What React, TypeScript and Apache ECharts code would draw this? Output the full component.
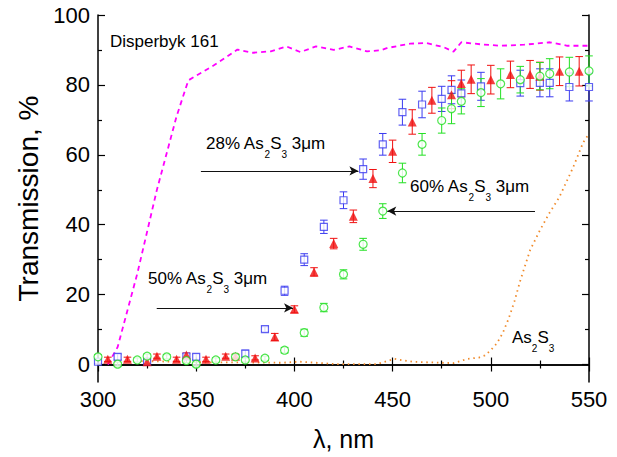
import React, { useEffect, useRef } from "react";
import * as echarts from "echarts";

const FONT = "'Liberation Sans', Arial, sans-serif";

// X ticks
const xTicks = [300, 350, 400, 450, 500, 550];
const yMajor = [0, 20, 40, 60, 80, 100];
const yMinor = [10, 30, 50, 70, 90];

// 28% As2S3 3um (blue squares)
const blueX = [300, 310, 325, 345, 350, 375, 385, 395, 405, 415, 425, 435, 445, 455, 465, 475, 480, 485, 495, 515, 525, 530, 540, 550];
const blueY = [0.8, 2.2, 0.8, 2.3, 2.2, 3.1, 10.1, 21.1, 30.0, 39.4, 47.0, 55.9, 63.0, 72.2, 74.4, 76.0, 78.6, 77.6, 79.6, 80.5, 80.6, 80.6, 79.4, 79.4];
const blueErr = [0.6, 0.8, 0.6, 0.8, 0.8, 1.0, 0.7, 1.3, 1.7, 1.9, 2.4, 2.9, 3.1, 3.7, 3.8, 3.6, 4.0, 3.8, 4.0, 3.7, 4.0, 4.0, 4.0, 4.0];

// 50% As2S3 3um (red triangles)
const redX = [305, 315, 325, 330, 340, 345, 355, 365, 370, 380, 390, 400, 410, 420, 430, 440, 450, 460, 470, 480, 485, 490, 500, 510, 520, 525, 535, 545];
const redY = [1.5, 1.5, 0.8, 2.4, 1.5, 2.7, 1.5, 2.4, 2.4, 1.9, 7.9, 15.8, 26.5, 34.6, 42.4, 53.2, 61.0, 69.4, 75.6, 77.2, 80.4, 81.6, 81.5, 83.0, 83.0, 82.5, 83.9, 83.9];
const redErr = [0.6, 0.6, 0.6, 0.6, 0.6, 0.6, 0.6, 0.6, 0.6, 0.6, 1.0, 1.0, 1.2, 1.5, 1.8, 2.6, 3.2, 3.5, 3.7, 4.0, 3.8, 4.1, 4.1, 3.8, 4.0, 4.0, 4.1, 4.2];

// 60% As2S3 3um (green circles)
const greenX = [300, 310, 320, 325, 335, 345, 350, 360, 370, 375, 385, 395, 405, 415, 425, 435, 445, 455, 465, 475, 480, 485, 495, 505, 515, 525, 530, 540, 550];
const greenY = [2.2, 0.1, 1.3, 2.4, 2.2, 1.1, 0.1, 1.3, 2.2, 1.3, 1.8, 4.1, 9.1, 16.3, 25.8, 34.4, 43.9, 54.8, 63.0, 69.8, 73.2, 75.3, 77.8, 80.3, 81.5, 82.5, 83.2, 83.7, 84.0];
const greenErr = [0.6, 0.6, 0.6, 0.6, 0.6, 0.6, 0.6, 0.6, 0.6, 0.6, 0.6, 0.8, 1.0, 1.2, 1.3, 1.7, 2.1, 2.8, 3.1, 3.6, 4.3, 3.6, 4.0, 4.3, 3.8, 3.9, 4.3, 4.2, 4.3];

// Disperbyk 161 (magenta dashed)
const magX = [305, 310, 320, 330, 340, 346, 359, 371, 379, 388, 396, 403, 411, 420, 428, 437, 444, 447, 454, 459, 467, 476, 481, 485, 495, 505, 517, 530, 539, 550];
const magY = [0, 5, 26, 50, 71, 81.3, 85.6, 90.1, 89.2, 89.6, 91, 89.4, 91, 90, 91, 89.6, 89.9, 90.5, 91.3, 91.8, 92, 90.8, 89.5, 92.2, 91.6, 91.2, 91.5, 92.2, 91.2, 91.2];

// As2S3 (orange dotted)
const orX = [322, 340, 360, 375, 393, 403, 422, 442, 451, 460, 470, 481, 488, 494, 497, 500, 503, 506, 509, 512, 515, 520, 525, 530, 535, 542, 547, 550];
const orY = [1.0, 0.8, 0.6, 0.6, 0.5, 0.8, 0.1, 0.1, 1.6, 0.8, 0.6, 0.4, 1.6, 2.0, 2.6, 4.1, 6.0, 8.9, 13, 18, 24, 32.7, 38.4, 43.5, 48, 56.5, 63.5, 66];

// Annotation arrows: [x start, x end, y]
const arrow28 = [352.4, 432.6, 55.4];
const arrow50 = [329.9, 399.3, 16.2];
const arrow60 = [522.5, 447.3, 43.9];

const BLUE = "#3b3bf0";
const RED = "#f01010";
const GREEN = "#22e022";
const MAGENTA = "#ff00ff";
const ORANGE = "#f08a2a";

function errorSeries(xs: number[], ys: number[], es: number[], color: string) {
  return {
    type: "custom",
    xAxisIndex: 0,
    yAxisIndex: 0,
    silent: true,
    z: 3,
    data: xs.map((x, i) => [x, ys[i] - es[i], ys[i] + es[i]]),
    encode: { x: 0, y: [1, 2] },
    renderItem: (params: any, api: any) => {
      const x = api.value(0);
      const lo = api.coord([x, api.value(1)]);
      const hi = api.coord([x, api.value(2)]);
      const hw = 3.8;
      const st = { stroke: color, lineWidth: 1 };
      return {
        type: "group",
        children: [
          { type: "line", shape: { x1: lo[0], y1: lo[1], x2: hi[0], y2: hi[1] }, style: st },
          { type: "line", shape: { x1: lo[0] - hw, y1: lo[1], x2: lo[0] + hw, y2: lo[1] }, style: st },
          { type: "line", shape: { x1: hi[0] - hw, y1: hi[1], x2: hi[0] + hw, y2: hi[1] }, style: st },
        ],
      };
    },
  };
}

function arrowLine(a: number[]) {
  return [{ coord: [a[0], a[2]] }, { coord: [a[1], a[2]] }];
}

const rich = {
  a: { fontSize: 17, lineHeight: 20, verticalAlign: "top", fontFamily: FONT, color: "#000" },
  s: { fontSize: 10, lineHeight: 10, verticalAlign: "top", padding: [14, 0, 0, 0], fontFamily: FONT, color: "#000" },
};

function label(text: string, x: number, y: number) {
  return {
    type: "text",
    x,
    y,
    z: 10,
    style: { text, rich, align: "left", verticalAlign: "top", font: `17px ${FONT}` },
  };
}

export default function App() {
  const ref = useRef<HTMLDivElement>(null);
  useEffect(() => {
    if (!ref.current) return;
    const chart = echarts.init(ref.current, undefined, { renderer: "svg" });
    const axisLine = { show: true, lineStyle: { color: "#000", width: 1.5 } };
    const xBase = {
      type: "value",
      min: 300,
      max: 550,
      interval: 50,
      axisLine,
      splitLine: { show: false },
      axisTick: { show: true, inside: true, length: 7, lineStyle: { color: "#000", width: 1.2 } },
      minorTick: { show: true, splitNumber: 2, length: 4, lineStyle: { color: "#000", width: 1.2 } },
    };
    const yBase = {
      type: "value",
      min: -5,
      max: 100,
      splitLine: { show: false },
    };
    chart.setOption({
      animation: false,
      backgroundColor: "#fff",
      textStyle: { fontFamily: FONT },
      grid: { left: 98, right: 28, top: 15, bottom: 75, containLabel: false },
      xAxis: [
        {
          ...xBase,
          position: "bottom",
          name: "λ, nm",
          nameLocation: "middle",
          nameGap: 44,
          nameTextStyle: { fontSize: 25, color: "#000", fontFamily: FONT },
          axisLabel: { show: true, fontSize: 22, color: "#000", margin: 6, fontFamily: FONT, customValues: xTicks },
        },
        { ...xBase, position: "top", axisLabel: { show: false } },
      ],
      yAxis: [
        {
          ...yBase,
          position: "left",
          axisLine,
          name: "Transmission, %",
          nameLocation: "middle",
          nameGap: 54,
          nameTextStyle: { fontSize: 28, color: "#000", fontFamily: FONT },
          axisTick: { show: true, inside: true, length: 7, customValues: yMajor, lineStyle: { color: "#000", width: 1.2 } },
          axisLabel: { show: true, fontSize: 22, color: "#000", margin: 8, fontFamily: FONT, customValues: yMajor },
        },
        {
          ...yBase,
          position: "left",
          axisLine: { show: false },
          axisTick: { show: true, inside: true, length: 4, customValues: yMinor, lineStyle: { color: "#000", width: 1.2 } },
          axisLabel: { show: false },
        },
        {
          ...yBase,
          position: "right",
          axisLine,
          axisTick: { show: true, inside: true, length: 7, customValues: yMajor, lineStyle: { color: "#000", width: 1.2 } },
          axisLabel: { show: false },
        },
        {
          ...yBase,
          position: "right",
          axisLine: { show: false },
          axisTick: { show: true, inside: true, length: 4, customValues: yMinor, lineStyle: { color: "#000", width: 1.2 } },
          axisLabel: { show: false },
        },
      ],
      series: [
        {
          type: "line",
          name: "Disperbyk 161",
          data: magX.map((x, i) => [x, magY[i]]),
          showSymbol: false,
          lineStyle: { color: MAGENTA, width: 1.8, type: [5, 4] },
          z: 1,
          markLine: {
            silent: true,
            symbol: ["none", "arrow"],
            symbolSize: [7, 9],
            label: { show: false },
            lineStyle: { color: "#111", width: 1.2, type: "solid" },
            data: [arrowLine(arrow28), arrowLine(arrow50), arrowLine(arrow60)],
          },
        },
        {
          type: "line",
          name: "As2S3",
          data: orX.map((x, i) => [x, orY[i]]),
          showSymbol: false,
          lineStyle: { color: ORANGE, width: 1.8, type: [1.5, 3.8] },
          z: 1,
        },
        errorSeries(blueX, blueY, blueErr, BLUE),
        errorSeries(redX, redY, redErr, RED),
        errorSeries(greenX, greenY, greenErr, GREEN),
        {
          type: "scatter",
          name: "28%",
          data: blueX.map((x, i) => [x, blueY[i]]),
          symbol: "rect",
          symbolSize: 7,
          itemStyle: { color: "#fff", borderColor: BLUE, borderWidth: 1.2 },
          z: 4,
        },
        {
          type: "scatter",
          name: "50%",
          data: redX.map((x, i) => [x, redY[i]]),
          symbol: "triangle",
          symbolSize: 9,
          itemStyle: { color: RED },
          z: 4,
        },
        {
          type: "scatter",
          name: "60%",
          data: greenX.map((x, i) => [x, greenY[i]]),
          symbol: "circle",
          symbolSize: 8,
          itemStyle: { color: "#fff", borderColor: GREEN, borderWidth: 1.2 },
          z: 4,
        },
      ],
      graphic: [
        label("{a|Disperbyk 161}", 110, 33),
        label("{a|28% As}{s|2}{a|S}{s|3}{a| 3μm}", 206, 135),
        label("{a|50% As}{s|2}{a|S}{s|3}{a| 3μm}", 148, 270),
        label("{a|60% As}{s|2}{a|S}{s|3}{a| 3μm}", 410, 178),
        label("{a|As}{s|2}{a|S}{s|3}", 512, 329),
      ],
    });
    return () => chart.dispose();
  }, []);
  return (
    <div
      ref={ref}
      style={{ position: "fixed", left: 0, top: 0, width: 617, height: 457, background: "#fff" }}
    />
  );
}
